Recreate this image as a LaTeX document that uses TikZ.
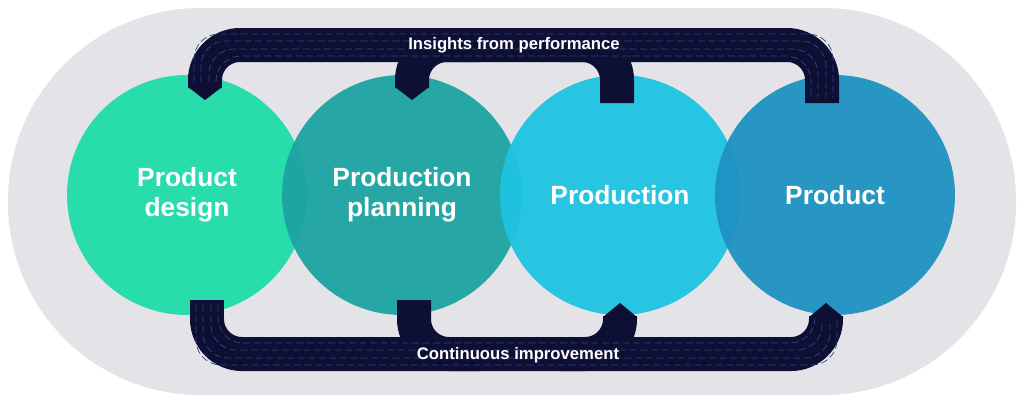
\documentclass[tikz,border=0pt]{standalone}
\usepackage{fontspec}
\setmainfont{Liberation Sans}
\definecolor{Back}{HTML}{E4E3E8}
\definecolor{Band}{HTML}{0D0F35}
\definecolor{Stripe}{HTML}{2E4A7A}
\definecolor{Green}{HTML}{1EDCA8}
\definecolor{Teal}{HTML}{1DA3A3}
\definecolor{Cyan}{HTML}{1EC4E2}
\definecolor{Blue}{HTML}{1D92C2}
\usetikzlibrary{positioning}

\begin{document}
\begin{tikzpicture}
    [x=0.02cm, y=-0.02cm,
    stage/.style={circle, minimum size=4.8cm, inner sep=0pt, fill opacity=0.95,
        text opacity=1, text=white, align=center, font=\fontsize{15}{17}\selectfont\bfseries},
    band/.style={draw=Band, line width=0.68cm, rounded corners=0.7cm},
    stripes/.style={draw=Stripe, line width=0.4pt, dash pattern=on 4pt off 2pt, rounded corners=0.5cm},
    tip/.style={fill=Band},
    label/.style={text=white, font=\fontsize{9.5}{11}\selectfont\bfseries}]

    \useasboundingbox (0,0) rectangle (1024,403);
    \fill [Back, rounded corners=3.85cm] (8,8) rectangle (1016,395);

    % stages
    \node [stage, fill=Green] (design) at (187,195) {Product\\design};
    \node [stage, fill=Teal] (planning) at (402,195) {Production\\planning};
    \node [stage, fill=Cyan] (production) at (620,195) {Production};
    \node [stage, fill=Blue] (product) at (835,195) {Product};

    % top loop
    \coordinate (t1) at (205,88);
    \coordinate (t2) at (412,88);
    \coordinate (t3) at (617,103);
    \coordinate (t4) at (822,103);
    \draw [band] (t1) -- (205,45) -- (822,45) -- (t4);
    \draw [band] (t2) -- (412,45) -- (480,45);
    \draw [band] (t3) -- (617,45) -- (560,45);
    \foreach \dy in {-11,-4,4,11}
        \draw [stripes] (205+\dy,82) -- (205+\dy,45+\dy) -- (822-\dy,45+\dy) -- (822-\dy,98);
    \fill [tip] (188,87) -- (222,87) -- (205,100) -- cycle;
    \fill [tip] (395,87) -- (429,87) -- (412,100) -- cycle;
    \node [label] (insights) at (514,45) {Insights from performance};

    % bottom loop
    \coordinate (b1) at (207,300);
    \coordinate (b2) at (414,300);
    \coordinate (b3) at (620,316);
    \coordinate (b4) at (826,316);
    \draw [band] (b1) -- (207,354) -- (826,354) -- (b4);
    \draw [band] (b2) -- (414,354) -- (480,354);
    \draw [band] (b3) -- (620,354) -- (560,354);
    \foreach \dy in {-11,-4,4,11}
        \draw [stripes] (207+\dy,305) -- (207+\dy,354-\dy) -- (826-\dy,354-\dy) -- (826-\dy,320);
    \fill [tip] (603,317) -- (637,317) -- (620,303) -- cycle;
    \fill [tip] (809,317) -- (843,317) -- (826,303) -- cycle;
    \node [label] (improve) at (518,355) {Continuous improvement};
\end{tikzpicture}
\end{document}
